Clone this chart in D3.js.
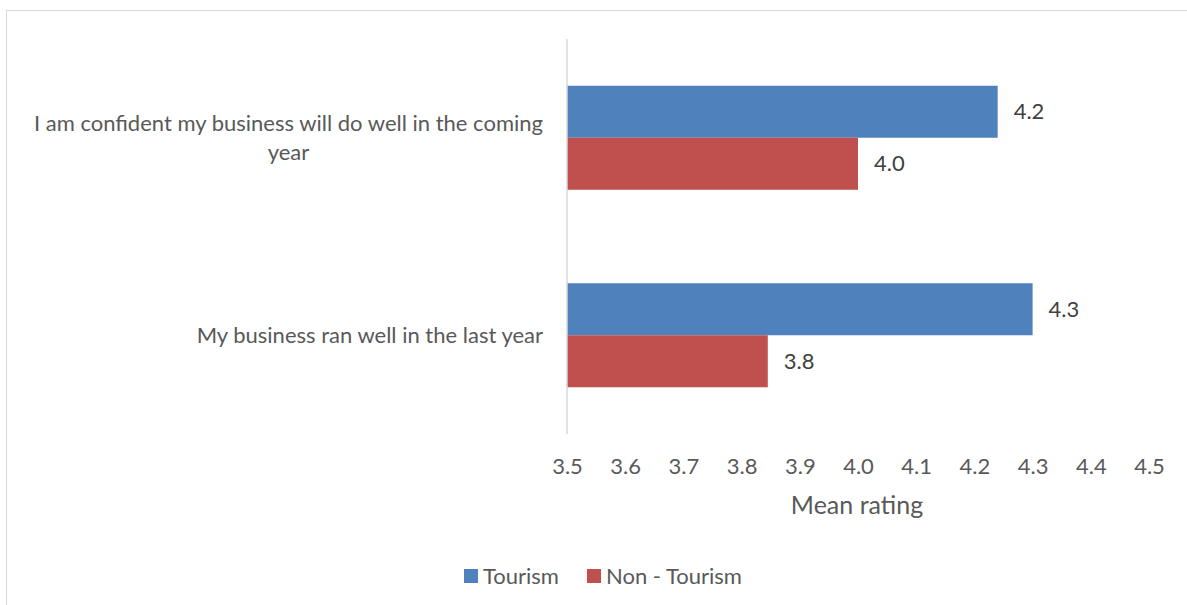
<!DOCTYPE html>
<html>
<head>
<meta charset="utf-8">
<script src="https://cdn.jsdelivr.net/npm/d3@7"></script>
<style>
  html, body { margin: 0; padding: 0; background: #fff; }
  svg { display: block; }
  text { font-family: Lato, "Open Sans", sans-serif; fill: #595959; }
</style>
</head>
<body>
<svg id="chart" width="1187" height="605"></svg>
<script>
// Survey statements (top to bottom)
const categories = [
  "I am confident my business will do well in the coming year",
  "My business ran well in the last year"
];
// Mean rating per statement for each group
const seriesNames = ["Tourism", "Non - Tourism"];
const tourism = [4.24, 4.30];
const nonTourism = [4.00, 3.845];
const xTicks = [3.5, 3.6, 3.7, 3.8, 3.9, 4.0, 4.1, 4.2, 4.3, 4.4, 4.5];
const colors = ["#4F81BD", "#C0504D"];

const rows = categories.map((c, i) => ({ cat: c, values: [tourism[i], nonTourism[i]] }));

const svg = d3.select("#chart");

// Outer chart frame
svg.append("rect")
  .attr("x", 6.5).attr("y", 10.5)
  .attr("width", 1187).attr("height", 605)
  .attr("fill", "none").attr("stroke", "#d9d9d9");

const x = d3.scaleLinear().domain([3.5, 4.5]).range([567, 1149]);
const y = d3.scaleBand().domain(categories).range([39, 434]);
const barH = 52;
const fmt = d3.format(".1f");
const baseSize = 22;

// Bars, two per statement
const groups = svg.selectAll("g.cat").data(rows).join("g").attr("class", "cat");
groups.each(function (d) {
  const g = d3.select(this);
  const cy = y(d.cat) + y.bandwidth() / 2;
  d.values.forEach((v, j) => {
    const top = cy - barH + j * barH;
    g.append("rect")
      .attr("x", x(3.5)).attr("y", top)
      .attr("width", x(v) - x(3.5)).attr("height", barH)
      .attr("fill", colors[j]);
    g.append("text")
      .attr("x", x(v) + 16).attr("y", top + barH / 2)
      .attr("dy", "0.35em")
      .style("font-size", baseSize + "px")
      .style("fill", "#404040")
      .text(fmt(v));
  });
});

// Vertical category axis line
svg.append("line")
  .attr("x1", x(3.5)).attr("x2", x(3.5))
  .attr("y1", 39).attr("y2", 434)
  .attr("stroke", "#d9d9d9").attr("stroke-width", 1.5);

// Category labels, wrapped to the space left of the axis
function measure(str, size) {
  const tmp = svg.append("text").style("font-size", size + "px").text(str);
  const w = tmp.node().getComputedTextLength();
  tmp.remove();
  return w;
}
function wrapLines(text, maxW, size) {
  const words = text.split(" ");
  const lines = [];
  let cur = [];
  words.forEach(w => {
    cur.push(w);
    if (measure(cur.join(" "), size) > maxW && cur.length > 1) {
      cur.pop();
      lines.push(cur.join(" "));
      cur = [w];
    }
  });
  lines.push(cur.join(" "));
  return lines;
}
const lineH = 29;
const labelRight = 543;
categories.forEach(c => {
  const lines = wrapLines(c, 535, baseSize);
  const blockW = d3.max(lines, ln => measure(ln, baseSize));
  const cx = labelRight - blockW / 2;
  const cy = y(c) + y.bandwidth() / 2;
  const t = svg.append("text")
    .attr("text-anchor", "middle")
    .style("font-size", baseSize + "px");
  lines.forEach((ln, k) => {
    t.append("tspan")
      .attr("x", cx)
      .attr("y", cy - (lines.length - 1) * lineH / 2 + k * lineH)
      .attr("dy", "0.35em")
      .text(ln);
  });
});

// Value axis
const axis = svg.append("g")
  .attr("transform", "translate(0,466)")
  .call(d3.axisBottom(x).tickValues(xTicks).tickFormat(fmt).tickSize(0).tickPadding(0));
axis.select(".domain").remove();
axis.selectAll("text")
  .attr("dy", "0.35em")
  .style("font-size", baseSize + "px")
  .style("fill", "#595959")
  .style("font-family", "Lato, 'Open Sans', sans-serif");

svg.append("text")
  .attr("x", 857).attr("y", 505).attr("dy", "0.35em")
  .attr("text-anchor", "middle")
  .style("font-size", "25px")
  .text("Mean rating");

// Legend
const legendItems = [
  { name: seriesNames[0], color: colors[0], x: 464 },
  { name: seriesNames[1], color: colors[1], x: 587 }
];
const lg = svg.selectAll("g.legend").data(legendItems).join("g").attr("class", "legend")
  .attr("transform", d => `translate(${d.x},576)`);
lg.append("rect").attr("x", 0).attr("y", -7).attr("width", 14).attr("height", 14)
  .attr("fill", d => d.color);
lg.append("text").attr("x", 19).attr("dy", "0.35em")
  .style("font-size", baseSize + "px")
  .text(d => d.name);
</script>
</body>
</html>
